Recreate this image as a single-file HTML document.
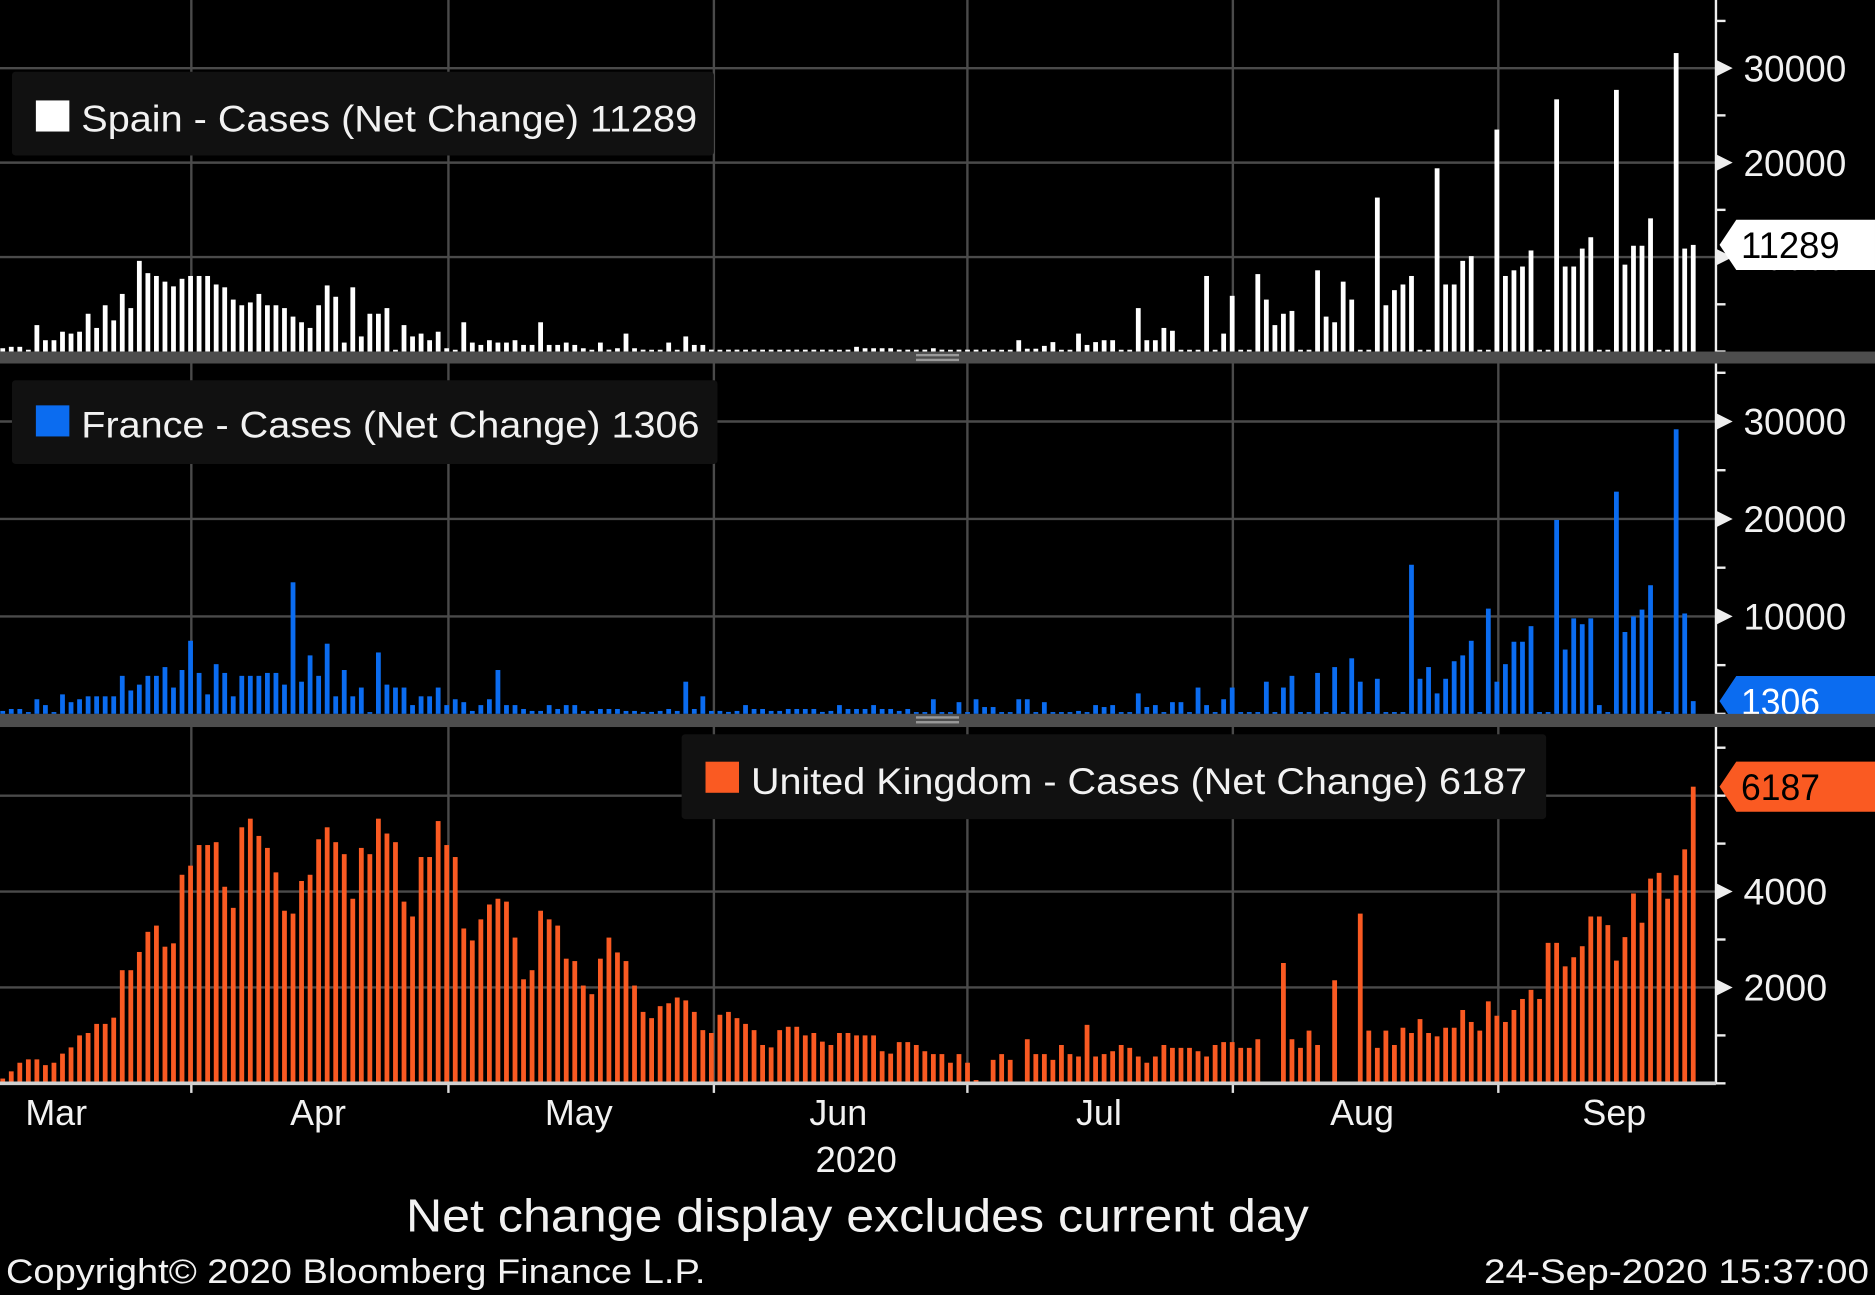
<!DOCTYPE html>
<html><head><meta charset="utf-8">
<style>
html,body{margin:0;padding:0;background:#000;}
svg{display:block;}
text{font-family:"Liberation Sans",sans-serif;}
</style></head>
<body>
<svg id="chart" xmlns="http://www.w3.org/2000/svg" width="1875" height="1295" viewBox="0 0 1568 1083" preserveAspectRatio="none">
<rect x="0" y="0" width="1568" height="1083" fill="#000"/>
<g id="grid"></g>
<g id="bars"></g>
<g id="axes"></g>
<g id="legends">
  <g>
    <rect x="10" y="60" width="587" height="70" fill="#111" rx="3"/>
    <rect x="30" y="84" width="28" height="26" fill="#fff"/>
    <text x="68" y="110" font-size="31" fill="#f2f2f2" textLength="515" lengthAdjust="spacingAndGlyphs">Spain - Cases (Net Change) 11289</text>
  </g>
  <g>
    <rect x="10" y="318" width="590" height="70" fill="#111" rx="3"/>
    <rect x="30" y="339" width="28" height="26" fill="#0b6cf0"/>
    <text x="68" y="366" font-size="31" fill="#f2f2f2" textLength="517" lengthAdjust="spacingAndGlyphs">France - Cases (Net Change) 1306</text>
  </g>
  <g>
    <rect x="570" y="614" width="723" height="71" fill="#111" rx="3"/>
    <rect x="590" y="637" width="28" height="26" fill="#fa5a22"/>
    <text x="628" y="664" font-size="31" fill="#f2f2f2" textLength="649" lengthAdjust="spacingAndGlyphs">United Kingdom - Cases (Net Change) 6187</text>
  </g>
</g>
<g id="tags"></g>
<g id="seps"></g>
<g id="footer">
  <text x="716" y="980" font-size="30" fill="#f2f2f2" text-anchor="middle" textLength="68" lengthAdjust="spacingAndGlyphs">2020</text>
  <text x="717" y="1030" font-size="39" fill="#f2f2f2" text-anchor="middle" textLength="755" lengthAdjust="spacingAndGlyphs">Net change display excludes current day</text>
  <text x="5" y="1073" font-size="29" fill="#f2f2f2" textLength="585" lengthAdjust="spacingAndGlyphs">Copyright© 2020 Bloomberg Finance L.P.</text>
  <text x="1563" y="1073" font-size="29" fill="#f2f2f2" text-anchor="end" textLength="322" lengthAdjust="spacingAndGlyphs">24-Sep-2020 15:37:00</text>
</g>
</svg>
<script>
const months = ["Mar","Apr","May","Jun","Jul","Aug","Sep"];
const monthLabelX = [47,266,484,701,919,1139,1350];
const spainTicks = [10000,20000,30000];
const franceTicks = [10000,20000,30000];
const ukTicks = [2000,4000];
const spainLast = 11289, franceLast = 1306, ukLast = 6187;

const spain = [350,500,500,0,2800,1200,1200,2100,1900,2100,4000,2500,4900,3300,6100,4600,9600,8300,8000,7400,6900,7700,8000,8000,8000,7100,6800,5500,4900,5200,6100,4900,4900,4600,3700,3100,2500,4900,7000,5800,950,6800,1600,4000,4000,4600,50,2800,1600,1900,1200,2100,350,0,3100,950,700,1200,950,950,1200,700,700,3100,700,700,950,700,350,0,950,200,350,1900,350,200,0,0,950,0,1600,700,700,200,0,200,200,200,200,200,200,0,200,200,200,200,200,200,0,200,500,350,350,350,350,
200,200,200,200,350,200,0,200,200,200,200,200,0,0,1200,300,300,600,1000,0,0,1900,700,1000,1200,1200,0,0,4600,1200,1200,2500,2200,0,0,0,8000,0,1900,5900,0,0,8200,5500,2800,4000,4300,0,0,8600,3700,3100,7400,5500,0,0,16300,4900,6500,7100,8000,0,0,19400,7100,7100,9600,10100,0,0,23500,8000,8600,9000,10700,0,0,26700,9000,9000,10900,12100,0,0,27700,9200,11200,11200,14100,0,0,31600,10900,11289];

const france = [300,500,500,0,1500,900,0,2000,1200,1500,1800,1800,1800,1800,3900,2400,3000,3900,3900,4800,2700,4500,7500,4200,2000,5100,4200,1800,3900,3900,3900,4200,4200,3000,13500,3300,6000,3900,7200,1800,4500,1800,2700,0,6300,3000,2700,2700,900,1800,1800,2700,900,1500,1200,300,900,1500,4500,900,900,500,300,300,900,500,900,900,300,300,500,500,500,300,300,200,200,300,500,300,3300,500,1800,300,300,200,300,900,500,500,300,300,500,500,500,500,200,300,900,500,500,500,900,500,500,
300,500,100,100,1500,100,100,1200,100,1500,700,700,100,100,1500,1500,100,1200,100,100,100,300,100,900,700,900,100,100,2100,700,900,100,1200,1200,100,2700,900,100,1500,2700,100,100,100,3300,100,2700,3900,100,100,4200,100,4800,100,5700,3300,100,3600,100,100,100,15300,3600,4800,2100,3600,5400,6000,7500,100,10800,3300,5100,7400,7400,9000,100,100,19900,6600,9800,9200,9800,900,100,22800,8400,10000,10700,13200,300,100,29200,10300,1306];

const uk = [100,250,430,500,500,380,430,620,750,1000,1050,1240,1240,1370,2360,2360,2740,3160,3290,2850,2920,4350,4540,4970,4970,5030,4100,3660,5340,5520,5160,4910,4400,3600,3540,4220,4350,5090,5340,5030,4780,3850,4910,4780,5520,5210,5030,3790,3480,4720,4720,5470,4970,4720,3230,2980,3420,3730,3850,3790,3040,2170,2360,3600,3420,3290,2600,2550,2040,1860,2600,3040,2730,2550,2040,1490,1360,1610,1670,1790,1730,1490,1110,1050,1430,1490,1360,1240,1110,800,750,1110,1180,1180,1000,1050,870,800,1050,1050,1000,1000,1000,670,620,
860,860,800,670,610,610,430,610,430,70,20,490,610,490,20,920,610,610,490,800,610,560,1220,560,610,670,800,740,560,430,560,800,740,740,740,670,560,800,860,860,740,740,920,0,0,2510,920,740,1100,800,0,2150,0,0,3540,1100,740,1100,800,1160,1050,1340,1050,980,1160,1160,1530,1280,1100,1710,1410,1280,1530,1760,1950,1760,2930,2930,2440,2630,2860,3480,3480,3300,2560,3050,3960,3350,4270,4390,3850,4340,4880,6187];

const NS='http://www.w3.org/2000/svg';
function mk(tag, attrs, parent){const e=document.createElementNS(NS,tag);for(const k in attrs)e.setAttribute(k,attrs[k]);parent.appendChild(e);return e;}

const AXIS_X=1435, LAST_X=1416, STEP=7.14, BAR_W=4;
function xScale(i,n){return LAST_X-(n-1-i)*STEP;}
const panels=[
  {name:'spain',data:spain,base:294,ppu:79/10000,color:'#ffffff',ticks:spainTicks,minor:5000,max:35000,last:spainLast,tagFill:'#ffffff',tagText:'#000'},
  {name:'france',data:france,base:597,ppu:81.5/10000,color:'#0b6cf0',ticks:franceTicks,minor:5000,max:35000,last:franceLast,tagFill:'#0b6cf0',tagText:'#fff'},
  {name:'uk',data:uk,base:906,ppu:40.1/1000,color:'#fa5a22',ticks:ukTicks,minor:1000,max:7000,last:ukLast,tagFill:'#fa5a22',tagText:'#000',extraGrid:[6000]}
];
const grid=document.getElementById('grid'), bars=document.getElementById('bars'), axes=document.getElementById('axes'), tags=document.getElementById('tags'), seps=document.getElementById('seps');
const monthGridX=[160,375,597,809,1031,1253];
monthGridX.forEach(x=>{
  const l=mk('line',{x1:x,y1:0,x2:x,y2:906,stroke:'#4a4a4a','stroke-width':2},grid);
  
  
  const t=mk('line',{x1:x,y1:906,x2:x,y2:914,stroke:'#ddd','stroke-width':2},axes);
  
  
});
panels.forEach(p=>{
  const y=v=>p.base-v*p.ppu;
  p.ticks.concat(p.extraGrid||[]).forEach(v=>{
    const g=mk('line',{x1:0,y1:y(v),x2:AXIS_X,y2:y(v),stroke:'#4a4a4a','stroke-width':2},grid);
    
    
  });
  const n=p.data.length;
  p.data.forEach((v,i)=>{
    const h=Math.max(v*p.ppu,1.5);
    const r=mk('rect',{x:xScale(i,n)-BAR_W/2,y:p.base-h,width:BAR_W,height:h,fill:p.color},bars);
    
    
  });
  // axis
  const top=p.name==='spain'?0:(p.name==='france'?304:608);
  const ax=mk('line',{x1:AXIS_X,y1:top,x2:AXIS_X,y2:p.base,stroke:'#eee','stroke-width':2},axes);
  
  
  for(let v=0;v<=p.max;v+=p.minor){
    const m=mk('line',{x1:AXIS_X,y1:y(v),x2:AXIS_X+8,y2:y(v),stroke:'#eee','stroke-width':2},axes);
    
    
  }
  p.ticks.forEach(v=>{
    const yy=y(v);
    const tri=mk('polygon',{points:`${AXIS_X},${yy-7} ${AXIS_X+14},${yy} ${AXIS_X},${yy+7}`,fill:'#eee'},axes);
    
    
    const t=mk('text',{x:1458,y:yy+11,'font-size':31,fill:'#f2f2f2',textLength:v>=10000?86:70,lengthAdjust:'spacingAndGlyphs'},axes);
    t.textContent=String(v);
    
    
  });
  // value tag
  const ty=y(p.last);
  const tg=mk('polygon',{points:`${AXIS_X+3},${ty} ${AXIS_X+17},${ty-21} 1568,${ty-21} 1568,${ty+21} ${AXIS_X+17},${ty+21}`,fill:p.tagFill},tags);
  
  
  const tt=mk('text',{x:1456,y:ty+11,'font-size':31,fill:p.tagText,textLength:String(p.last).length*16.5,lengthAdjust:'spacingAndGlyphs'},tags);
  tt.textContent=String(p.last);
  
  
});
// separators
[[294,304],[597,608]].forEach(([a,b])=>{
  const s=mk('rect',{x:0,y:a,width:1568,height:b-a,fill:'#4d4d4d'},seps);
  
  
  const h1=mk('rect',{x:766,y:a+2,width:36,height:2,fill:'#999'},seps);
  
  
  const h2=mk('rect',{x:766,y:a+6,width:36,height:2,fill:'#999'},seps);
  
  
});
const bl=mk('line',{x1:0,y1:906,x2:AXIS_X,y2:906,stroke:'#cfcfcf','stroke-width':3},axes);


months.forEach((m,i)=>{
  const t=mk('text',{x:monthLabelX[i],y:941,'font-size':30,fill:'#f2f2f2','text-anchor':'middle'},axes);
  t.textContent=m;
  
  
});
</script>
</body></html>
